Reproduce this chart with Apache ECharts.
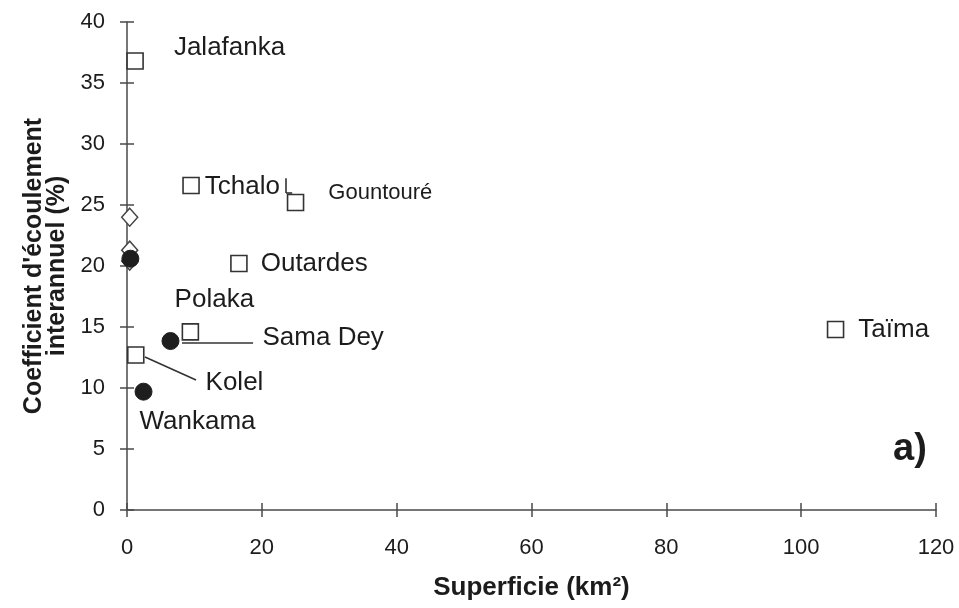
<!DOCTYPE html>
<html><head><meta charset="utf-8">
<script src="https://cdn.jsdelivr.net/npm/echarts@6/dist/echarts.min.js"></script>
<style>html,body{margin:0;padding:0;background:#fff}#c{width:959px;height:608px}</style>
</head><body><div id="c"></div>
<script>
// Open squares
const squareNames = ['Jalafanka','Tchalo','Gountouré','Outardes','Polaka','Kolel','Taïma'];
const squareX = [1.2, 9.5, 25.0, 16.6, 9.4, 1.3, 105.1];
const squareY = [36.8, 26.6, 25.2, 20.2, 14.6, 12.7, 14.8];
// Filled circles
const circleNames = ['Sama Dey','Wankama',''];
const circleX = [6.45, 2.45, 0.5];
const circleY = [13.85, 9.7, 20.6];
// Open diamonds
const diamondX = [0.4, 0.4, 0.4];
const diamondY = [24.0, 21.3, 20.4];
// Axis ticks
const xTicks = [0, 20, 40, 60, 80, 100, 120];
const yTicks = [0, 5, 10, 15, 20, 25, 30, 35, 40];

const FONT = 'Liberation Sans, Arial, sans-serif';
const TXT = '#1c1c1c';
const AX = '#4a4a4a';

const labelCfg = {
  'Jalafanka': {position:'right', distance:30, offset:[0,-13]},
  'Tchalo': {position:'right', distance:5, offset:[0,1]},
  'Gountouré': {position:'right', distance:24, offset:[0,-10], fontSize:22},
  'Outardes': {position:'right', distance:13, offset:[0,0]},
  'Polaka': {position:'inside', offset:[24,-32]},
  'Kolel': {position:'right', distance:61, offset:[0,28]},
  'Taïma': {position:'right', distance:14, offset:[0,0]},
  'Sama Dey': {position:'right', distance:83, offset:[0,-3]},
  'Wankama': {position:'inside', offset:[54,30]}
};
function mk(names, xs, ys){
  return xs.map((x,i)=>{
    const n = names ? names[i] : '';
    const it = {value:[x, ys[i]], name:n};
    if (n && labelCfg[n]) {
      const c = labelCfg[n];
      it.label = {show:true, formatter:n, position:c.position, distance:c.distance, offset:c.offset,
        fontSize:c.fontSize||26, color:TXT, fontFamily:FONT};
    }
    return it;
  });
}

const chart = echarts.init(document.getElementById('c'));
const baseX = {type:'value', min:xTicks[0], max:xTicks[xTicks.length-1], interval:20, splitLine:{show:false}};
const baseY = {type:'value', min:yTicks[0], max:yTicks[yTicks.length-1], interval:5, splitLine:{show:false}};
chart.setOption({
  animation:false,
  backgroundColor:'#fff',
  title:{text:'a)', left:888, top:426, textStyle:{fontSize:38, fontWeight:'bold', color:TXT, fontFamily:FONT}},
  grid:{left:127, right:23, top:22, bottom:98},
  xAxis:[
    Object.assign({}, baseX, {position:'bottom',
      name:'Superficie (km²)', nameLocation:'middle', nameGap:65,
      nameTextStyle:{fontSize:26, fontWeight:'bold', color:TXT, fontFamily:FONT},
      axisLine:{onZero:false, lineStyle:{color:AX, width:1.5}},
      axisTick:{inside:false, length:7, lineStyle:{color:AX, width:1.5}},
      axisLabel:{margin:27, fontSize:22, color:TXT, fontFamily:FONT}}),
    Object.assign({}, baseX, {position:'bottom',
      axisLine:{show:false, onZero:false}, axisTick:{inside:true, length:7, lineStyle:{color:AX, width:1.5}},
      axisLabel:{show:false}})
  ],
  yAxis:[
    Object.assign({}, baseY, {position:'left',
      name:"Coefficient d'écoulement\ninterannuel (%)", nameLocation:'middle', nameGap:58,
      nameTextStyle:{fontSize:25, fontWeight:'bold', color:TXT, fontFamily:FONT, lineHeight:23},
      axisLine:{onZero:false, lineStyle:{color:AX, width:1.5}},
      axisTick:{inside:false, length:7, lineStyle:{color:AX, width:1.5}},
      axisLabel:{margin:22, fontSize:22, color:TXT, fontFamily:FONT}}),
    Object.assign({}, baseY, {position:'left',
      axisLine:{show:false, onZero:false}, axisTick:{inside:true, length:7, lineStyle:{color:AX, width:1.5}},
      axisLabel:{show:false}})
  ],
  series:[
    {type:'scatter', symbol:'diamond', symbolSize:[16,18], data:mk(null, diamondX, diamondY),
      itemStyle:{color:'#fff', borderColor:'#444', borderWidth:1.5, opacity:1}, z:2},
    {type:'scatter', symbol:'rect', symbolSize:16, data:mk(squareNames, squareX, squareY),
      itemStyle:{color:'#fff', borderColor:'#333', borderWidth:1.6, opacity:1}, z:3,
      markLine:{silent:true, symbol:'none', label:{show:false},
        lineStyle:{color:'#333', width:1.6, type:'solid', opacity:1},
        data:[
          [{coord:[8.16,13.71]},{coord:[18.7,13.71]}],
          [{coord:[2.67,12.54]},{coord:[10.24,10.66]}],
          [{coord:[23.58,27.2]},{coord:[23.58,25.98]}],
          [{coord:[23.58,25.98]},{coord:[24.5,25.98]}]
        ]}},
    {type:'scatter', symbol:'circle', symbolSize:17, data:mk(circleNames, circleX, circleY),
      itemStyle:{color:'#1e1e1e', borderColor:'#1e1e1e', opacity:1}, z:4}
  ]
});
</script>
</body></html>
